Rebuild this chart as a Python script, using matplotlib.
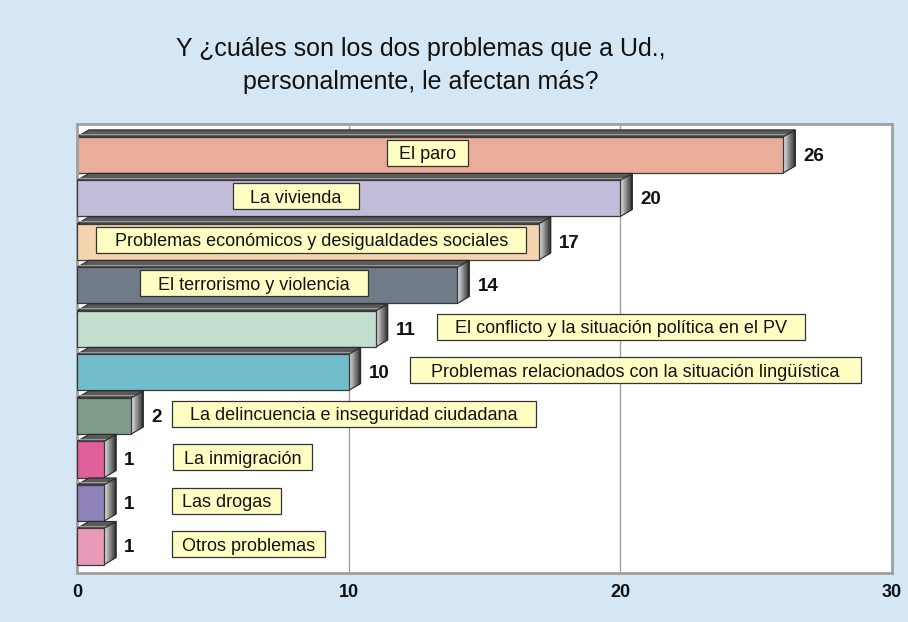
import numpy as np
import matplotlib.pyplot as plt
from matplotlib.patches import Polygon, Rectangle

plt.rcParams['font.family'] = ['Liberation Sans', 'DejaVu Sans']

problemas = ["El paro",
             "La vivienda",
             "Problemas económicos y desigualdades sociales",
             "El terrorismo y violencia",
             "El conflicto y la situación política en el PV",
             "Problemas relacionados con la situación lingüística",
             "La delincuencia e inseguridad ciudadana",
             "La inmigración",
             "Las drogas",
             "Otros problemas"]
valores = [26, 20, 17, 14, 11, 10, 2, 1, 1, 1]
colores = ['#E8AE9A', '#C2BCD8', '#F3D4AE', '#6F7B89', '#C2DECE',
           '#72BCCB', '#7E9C8A', '#E0609A', '#8E82B8', '#E89AB8']
# where each label box sits (x from, x to)
caja_x = [(11.40, 14.41), (5.74, 10.37), (0.70, 16.54), (2.32, 10.70),
          (13.24, 26.80), (12.24, 28.86), (3.49, 16.88), (3.53, 8.64),
          (3.49, 7.50), (3.49, 9.12)]
ticks = [0, 10, 20, 30]

fondo = '#D5E7F5'
fig = plt.figure(figsize=(9.08, 6.22), dpi=100, facecolor=fondo)
ax = fig.add_axes([77/908, 1-573/622, (892-77)/908, (573-124)/622])
ax.set_facecolor('white')

ax.set_xlim(0, 30)
ax.set_ylim(9.61, -0.71)

alto = 0.83      # bar thickness
dx = 0.44        # depth in x
dy = 0.16        # depth in y

for t in ticks[1:-1]:
    ax.axvline(t, color='#A0A0A0', lw=1, zorder=0)

grises = plt.get_cmap('Greys')
for i, v in enumerate(valores):
    y0 = i - alto/2
    y1 = i + alto/2
    # top face
    ax.add_patch(Polygon([(0, y0), (dx, y0-dy), (v+dx, y0-dy), (v, y0)],
                         closed=True, facecolor='#5A5A5A', edgecolor='#2A2A2A',
                         lw=0.8, zorder=2+i))
    ax.add_patch(Polygon([(0.05, y0-dy*0.35), (v+dx*0.6, y0-dy*0.35)],
                         closed=False, fill=False, edgecolor='#9A9A9A',
                         lw=0.8, zorder=2+i))
    # side face with gradient
    n = 8
    for k in range(n):
        a = dx*k/n
        b = dx*(k+1)/n
        c = grises(0.25 + 0.6*k/(n-1))
        ax.add_patch(Polygon([(v+a, y0-dy*k/n), (v+b, y0-dy*(k+1)/n),
                              (v+b, y1-dy*(k+1)/n), (v+a, y1-dy*k/n)],
                             closed=True, facecolor=c, edgecolor=c, lw=0.3,
                             zorder=2+i))
    ax.add_patch(Polygon([(v, y0), (v+dx, y0-dy), (v+dx, y1-dy), (v, y1)],
                         closed=True, fill=False, edgecolor='#2A2A2A',
                         lw=0.8, zorder=2+i))
    # front face
    ax.add_patch(Rectangle((0, y0), v, alto, facecolor=colores[i],
                           edgecolor='#3A3A3A', lw=0.9, zorder=2+i))
    ax.text(v + dx + 0.3, i + 0.03, str(v), fontsize=13.5, fontweight='bold',
            ha='left', va='center', color='#111111', zorder=20)

    # label box
    xa, xb = caja_x[i]
    ax.add_patch(Rectangle((xa, i - 0.35), xb - xa, 0.6, facecolor='#FFFFC4',
                           edgecolor='#333333', lw=0.9, zorder=15))
    ax.text((xa + xb)/2, i - 0.05, problemas[i], fontsize=13, ha='center',
            va='center_baseline', color='#111111', zorder=16)

ax.set_xticks(ticks)
ax.set_xticklabels([str(t) for t in ticks], fontsize=13, fontweight='bold')
ax.tick_params(axis='x', length=0, pad=8, colors='#111111')
ax.set_yticks([])
for s in ax.spines.values():
    s.set_color('#A0A0A0')
    s.set_linewidth(2)

fig.text(421/908, 1-37/622,
         "Y ¿cuáles son los dos problemas que a Ud.,\npersonalmente, le afectan más?",
         ha='center', va='top', fontsize=18, color='#111111', linespacing=1.5)

fig.savefig('out.png', dpi=100, facecolor=fondo)
